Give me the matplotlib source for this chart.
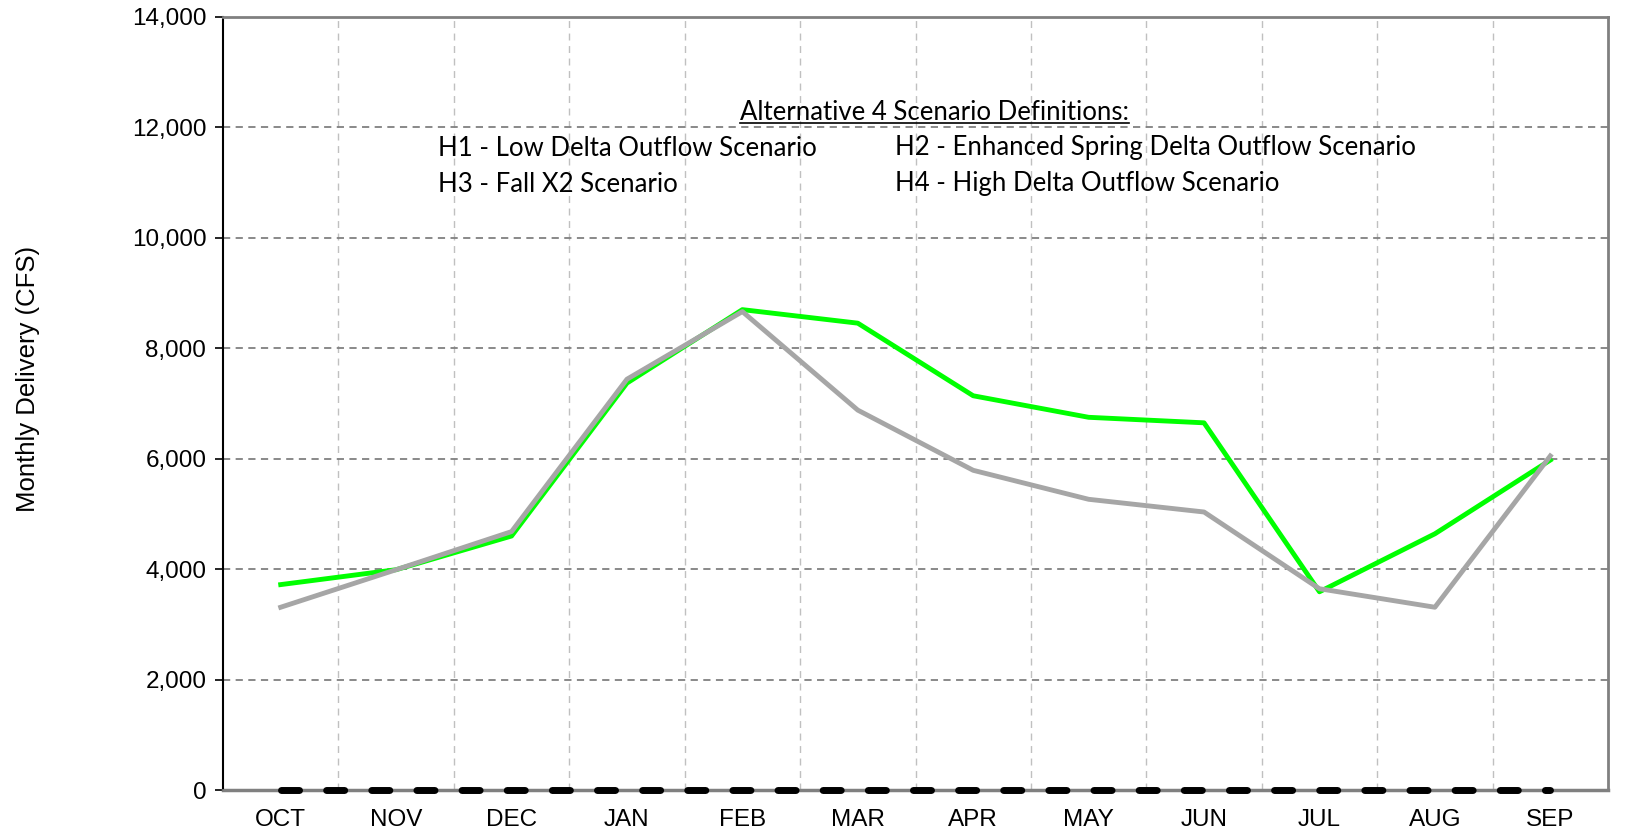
import matplotlib
matplotlib.use("Agg")
import matplotlib.pyplot as plt
import numpy as np

months = ["OCT", "NOV", "DEC", "JAN", "FEB", "MAR", "APR", "MAY", "JUN", "JUL", "AUG", "SEP"]
green_vals = [3720, 3990, 4600, 7370, 8700, 8455, 7140, 6750, 6650, 3590, 4640, 5975]
gray_vals = [3310, 3990, 4680, 7440, 8665, 6880, 5790, 5265, 5035, 3645, 3310, 6050]
zero_vals = [0] * 12

yticks = list(range(0, 14001, 2000))

fig = plt.figure(figsize=(16.27, 8.38), dpi=100)
ax = fig.add_axes([223 / 1627, 1 - 790 / 838, (1608 - 223) / 1627, (790 - 17) / 838])

x = np.arange(len(months))
ax.plot(x, green_vals, color="#00FF00", lw=3.5, solid_joinstyle="round", zorder=3)
ax.plot(x, gray_vals, color="#A6A6A6", lw=3.5, solid_joinstyle="round", zorder=4)
ax.axhline(0, color="#808080", lw=2.5, zorder=2, clip_on=False)
ax.plot(x, zero_vals, color="black", lw=5.0, dashes=(2.6, 3.9), dash_capstyle="round",
        zorder=6, clip_on=False)

ax.set_xlim(-0.5, 11.5)
ax.set_ylim(0, 14000)
ax.set_xticks(x)
ax.set_xticklabels(months)
ax.set_yticks(yticks)
ax.set_yticklabels([f"{v:,}" for v in yticks])
ax.tick_params(axis="x", length=0, pad=14, labelsize=17.5)
ax.tick_params(axis="y", length=6, width=1.2, direction="out", pad=6, labelsize=17.5)
for lab in ax.get_xticklabels() + ax.get_yticklabels():
    lab.set_family("Liberation Sans")

ax.set_xticks(np.arange(0.5, 11.5, 1.0), minor=True)
ax.tick_params(axis="x", which="minor", length=0)
ax.grid(axis="x", which="minor", color="#C0C0C0", ls=(0, (5, 4)), lw=1.0)
ax.grid(axis="y", which="major", color="#808080", ls=(0, (4, 3)), lw=1.3)
ax.grid(axis="x", which="major", visible=False)
ax.set_axisbelow(True)

ax.spines["left"].set_color("black")
ax.spines["left"].set_linewidth(1.5)
for s in ["top", "right", "bottom"]:
    ax.spines[s].set_color("#808080")
    ax.spines[s].set_linewidth(2.0)

ax.set_ylabel("Monthly Delivery (CFS)", family="Liberation Sans", fontsize=18.5)
ax.yaxis.set_label_coords(28 / 1627, 1 - 379 / 838, transform=fig.transFigure)
ax.yaxis.label.set_va("center")

tf = "Lato"
fs = 18.5
t = fig.text(934 / 1627, 1 - 112 / 838, "Alternative 4 Scenario Definitions:", ha="center", va="center",
             family=tf, fontsize=fs)
fig.canvas.draw()
bb = t.get_window_extent()
fig.add_artist(plt.Line2D([bb.x0 / 1627, bb.x1 / 1627], [(bb.y0 + 1) / 838, (bb.y0 + 1) / 838],
                          transform=fig.transFigure, color="black", lw=1.2))
fig.text(438 / 1627, 1 - 148 / 838, "H1 - Low Delta Outflow Scenario", ha="left", va="center", family=tf, fontsize=fs)
fig.text(895 / 1627, 1 - 148 / 838, "H2 - Enhanced Spring Delta Outflow Scenario", ha="left", va="center", family=tf, fontsize=fs)
fig.text(438 / 1627, 1 - 184 / 838, "H3 - Fall X2 Scenario", ha="left", va="center", family=tf, fontsize=fs)
fig.text(895 / 1627, 1 - 184 / 838, "H4 - High Delta Outflow Scenario", ha="left", va="center", family=tf, fontsize=fs)

fig.savefig("out.png", dpi=100)
